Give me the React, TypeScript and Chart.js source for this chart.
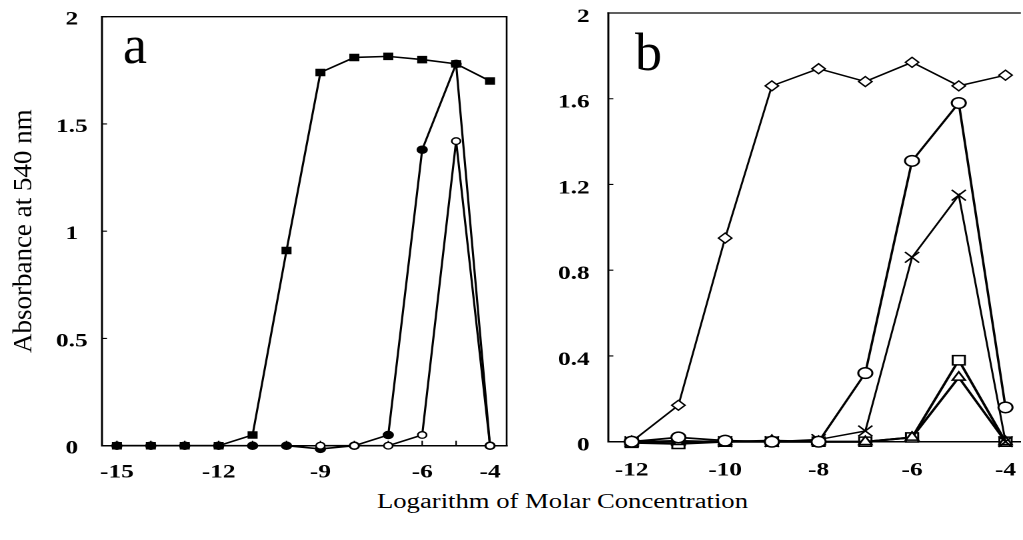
import React, { useEffect, useRef } from "react";
import { Chart, registerables } from "chart.js";

Chart.register(...registerables);

// ---------- Panel a ----------
const xA = [-15, -14, -13, -12, -11, -10, -9, -8, -7, -6, -5, -4];
const aSquares = [0, 0, 0, 0, 0.05, 0.91, 1.74, 1.81, 1.815, 1.8, 1.78, 1.7];
const aFilledCircles = [0, 0, 0, 0, 0, 0, -0.015, 0, 0.05, 1.38, 1.78, 0];
const aOpenCircles = [null, null, null, null, null, null, 0, 0, 0, 0.05, 1.42, 0];
const xTicksA = [-15, -12, -9, -6, -4];
const yTicksA = [0, 0.5, 1, 1.5, 2];

// ---------- Panel b ----------
const xB = [-12, -11, -10, -9, -8, -7, -6, -5, -4];
const bDiamonds = [0, 0.17, 0.95, 1.66, 1.74, 1.68, 1.77, 1.66, 1.71];
const bCircles = [0, 0.02, 0.005, 0, 0, 0.32, 1.31, 1.58, 0.16];
const bCrosses = [0, 0.005, 0, 0, 0.01, 0.05, 0.86, 1.15, 0];
const bSquares = [-0.005, -0.01, 0, 0, 0, 0, 0.02, 0.38, 0];
const bTriangles = [0, 0, 0, 0.005, 0, 0, 0.02, 0.3, 0];
const xTicksB = [-12, -10, -8, -6, -4];
const yTicksB = [0, 0.4, 0.8, 1.2, 1.6, 2];

const yTitle = "Absorbance at 540 nm";
const xTitle = "Logarithm of Molar Concentration";

const SERIF = '"Liberation Serif", "Times New Roman", serif';
const SX = 4 / 3; // horizontal stretch of the reference picture

function pts(xs: number[], ys: (number | null)[]) {
  return xs
    .map((x, i) => ({ x, y: ys[i] }))
    .filter((p) => p.y !== null) as { x: number; y: number }[];
}

function noPad(s: any) {
  s.paddingTop = 0;
  s.paddingBottom = 0;
  s.paddingLeft = 0;
  s.paddingRight = 0;
}

function framePlugin(o: {
  right: boolean;
  xMarks: number[];
  yMarks: number[];
  letter: string;
  lx: number;
  ly: number;
  yTitle?: string;
}) {
  return {
    id: "frame",
    beforeDatasetsDraw(chart: any) {
      const { ctx, chartArea } = chart;
      const { left, right, top, bottom } = chartArea;
      const x = chart.scales.x;
      const y = chart.scales.y;
      ctx.save();
      ctx.strokeStyle = "#000";
      ctx.lineWidth = 1.5;
      ctx.lineCap = "square";
      ctx.beginPath();
      ctx.moveTo(left, top);
      ctx.lineTo(left, bottom);
      ctx.lineTo(right, bottom);
      ctx.stroke();
      ctx.beginPath();
      ctx.lineWidth = 1.3;
      ctx.moveTo(left, top);
      ctx.lineTo(right, top);
      if (o.right) ctx.lineTo(right, bottom);
      ctx.stroke();
      ctx.lineWidth = 1.1;
      ctx.lineCap = "butt";
      ctx.beginPath();
      for (const v of o.xMarks) {
        const px = x.getPixelForValue(v);
        ctx.moveTo(px, bottom);
        ctx.lineTo(px, bottom - 5);
      }
      for (const v of o.yMarks) {
        const py = y.getPixelForValue(v);
        ctx.moveTo(left, py);
        ctx.lineTo(left + 3.75, py);
      }
      ctx.stroke();
      ctx.restore();
    },
    afterDraw(chart: any) {
      const ctx = chart.ctx;
      ctx.save();
      ctx.translate(o.lx, o.ly);
      ctx.scale(1 / SX, 1);
      ctx.font = `54px ${SERIF}`;
      ctx.fillStyle = "#000";
      ctx.textAlign = "left";
      ctx.textBaseline = "alphabetic";
      ctx.fillText(o.letter, 0, 0);
      ctx.restore();
      if (o.yTitle) {
        const { top, bottom } = chart.chartArea;
        ctx.save();
        ctx.translate(24 / SX, (top + bottom) / 2);
        ctx.scale(1 / SX, 1);
        ctx.rotate(-Math.PI / 2);
        ctx.font = `27px ${SERIF}`;
        ctx.fillStyle = "#000";
        ctx.textAlign = "center";
        ctx.textBaseline = "middle";
        ctx.fillText(o.yTitle, 0, 0);
        ctx.restore();
      }
    },
  };
}

const tickFont = { family: SERIF, weight: "bold" as const, size: 19 };

function lineDs(label: string, data: any, style: any, extra: any = {}) {
  return {
    label,
    data,
    showLine: true,
    borderColor: "#000",
    borderWidth: 1.6,
    pointStyle: style,
    pointBorderColor: "#000",
    pointBorderWidth: 1.3,
    clip: false,
    ...extra,
  };
}

export default function App() {
  const refA = useRef<HTMLCanvasElement | null>(null);
  const refB = useRef<HTMLCanvasElement | null>(null);

  useEffect(() => {
    const chartA = new Chart(refA.current as HTMLCanvasElement, {
      type: "scatter",
      data: {
        datasets: [
          lineDs("open circles", pts(xA, aOpenCircles), "circle", {
            pointRadius: 3.3,
            pointBackgroundColor: "#fff",
            order: 0,
          }),
          lineDs("filled circles", pts(xA, aFilledCircles), "circle", {
            pointRadius: 3.6,
            pointBackgroundColor: "#000",
            order: 1,
          }),
          lineDs("filled squares", pts(xA, aSquares), "rect", {
            pointRadius: 4.4,
            pointBackgroundColor: "#000",
            order: 2,
          }),
        ],
      },
      options: {
        animation: false,
        responsive: false,
        devicePixelRatio: 2,
        events: [],
        layout: { autoPadding: false, padding: { left: 0, right: 10, top: 16.7, bottom: 0 } },
        plugins: { legend: { display: false }, tooltip: { enabled: false } },
        scales: {
          x: {
            type: "linear",
            min: -15.44,
            max: -3.51,
            afterBuildTicks: (s: any) => {
              s.ticks = xTicksA.map((v) => ({ value: v }));
            },
            afterFit: (s: any) => {
              s.height = 34.3;
              noPad(s);
            },
            grid: { display: false, drawTicks: false },
            border: { display: false },
            ticks: {
              font: tickFont,
              color: "#000",
              padding: 15.5,
              maxRotation: 0,
              autoSkip: false,
              callback: (v: any) => String(v),
            },
          },
          y: {
            type: "linear",
            min: 0,
            max: 2,
            afterBuildTicks: (s: any) => {
              s.ticks = yTicksA.map((v) => ({ value: v }));
            },
            afterFit: (s: any) => {
              s.width = 76.5;
              noPad(s);
            },
            grid: { display: false, drawTicks: false },
            border: { display: false },
            ticks: {
              font: tickFont,
              color: "#000",
              padding: 10.8,
              labelOffset: 3,
              crossAlign: "center",
              autoSkip: false,
              callback: (v: any) => String(v),
            },
          },
        },
      },
      plugins: [
        framePlugin({
          right: true,
          xMarks: xA,
          yMarks: yTicksA,
          letter: "a",
          lx: 92.25,
          ly: 63,
          yTitle,
        }),
      ],
    } as any);

    const chartB = new Chart(refB.current as HTMLCanvasElement, {
      type: "scatter",
      data: {
        datasets: [
          lineDs("circles", pts(xB, bCircles), "circle", {
            pointRadius: 5.3,
            pointBackgroundColor: "#fff",
            pointBorderWidth: 1.5,
            borderWidth: 1.8,
            order: 0,
          }),
          lineDs("crosses", pts(xB, bCrosses), "crossRot", {
            pointRadius: 7.5,
            pointBackgroundColor: "#fff",
            pointBorderWidth: 1.4,
            borderWidth: 1.5,
            order: 1,
          }),
          lineDs("diamonds", pts(xB, bDiamonds), "rectRot", {
            pointRadius: 5,
            pointBackgroundColor: "#fff",
            borderWidth: 1.5,
            order: 2,
          }),
          lineDs("triangles", pts(xB, bTriangles), "triangle", {
            pointRadius: 5.5,
            pointBackgroundColor: "#fff",
            pointBorderWidth: 1.5,
            borderWidth: 2,
            order: 3,
          }),
          lineDs("squares", pts(xB, bSquares), "rect", {
            pointRadius: 6.5,
            pointBackgroundColor: "#fff",
            pointBorderWidth: 1.5,
            borderWidth: 2,
            order: 4,
          }),
        ],
      },
      options: {
        animation: false,
        responsive: false,
        devicePixelRatio: 2,
        events: [],
        layout: { autoPadding: false, padding: { left: 0, right: 2.25, top: 13, bottom: 0 } },
        plugins: { legend: { display: false }, tooltip: { enabled: false } },
        scales: {
          x: {
            type: "linear",
            min: -12.5,
            max: -3.69,
            afterBuildTicks: (s: any) => {
              s.ticks = xTicksB.map((v) => ({ value: v }));
            },
            afterFit: (s: any) => {
              s.height = 38.3;
              noPad(s);
            },
            grid: { display: false, drawTicks: false },
            border: { display: false },
            ticks: {
              font: tickFont,
              color: "#000",
              padding: 17.5,
              maxRotation: 0,
              autoSkip: false,
              callback: (v: any) => String(v),
            },
          },
          y: {
            type: "linear",
            min: 0,
            max: 2,
            afterBuildTicks: (s: any) => {
              s.ticks = yTicksB.map((v) => ({ value: v }));
            },
            afterFit: (s: any) => {
              s.width = 67;
              noPad(s);
            },
            grid: { display: false, drawTicks: false },
            border: { display: false },
            ticks: {
              font: tickFont,
              color: "#000",
              padding: 14,
              labelOffset: 4,
              autoSkip: false,
              callback: (v: any) => String(v),
            },
          },
        },
      },
      plugins: [
        framePlugin({ right: false, xMarks: [], yMarks: yTicksB, letter: "b", lx: 87, ly: 70 }),
      ],
    } as any);

    return () => {
      chartA.destroy();
      chartB.destroy();
    };
  }, []);

  return (
    <div
      style={{
        position: "absolute",
        left: 0,
        top: 0,
        width: 1023,
        height: 540,
        background: "#fff",
        overflow: "hidden",
      }}
    >
      <canvas
        ref={refA}
        width={390}
        height={480}
        style={{ position: "absolute", left: 0, top: 0, width: "520px", height: "480px" }}
      />
      <canvas
        ref={refB}
        width={378}
        height={480}
        style={{ position: "absolute", left: 519, top: 0, width: "504px", height: "480px" }}
      />
      <div
        style={{
          position: "absolute",
          left: 377,
          top: 491,
          fontFamily: SERIF,
          fontSize: 20,
          lineHeight: "20px",
          whiteSpace: "nowrap",
          color: "#000",
          transform: `scaleX(${SX})`,
          transformOrigin: "0 0",
        }}
      >
        {xTitle}
      </div>
    </div>
  );
}
